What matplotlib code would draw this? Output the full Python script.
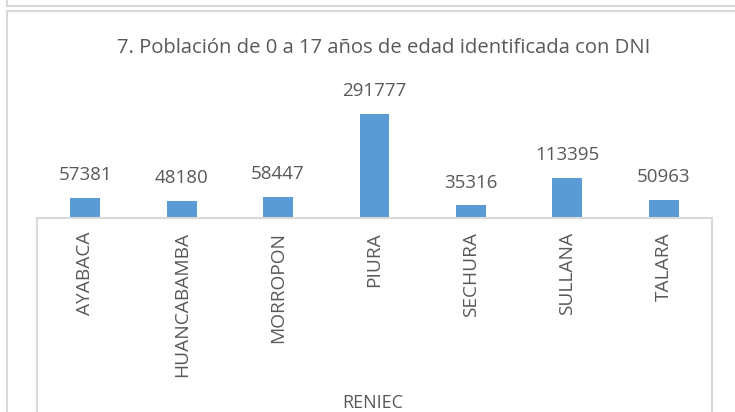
import matplotlib
matplotlib.use('Agg')
import matplotlib.pyplot as plt
from matplotlib.lines import Line2D

plt.rcParams['font.family'] = ['Open Sans', 'DejaVu Sans']

# datos del grafico
provincias = ['AYABACA', 'HUANCABAMBA', 'MORROPON', 'PIURA', 'SECHURA', 'SULLANA', 'TALARA']
poblacion = [57381, 48180, 58447, 291777, 35316, 113395, 50963]
titulo = '7. Población de 0 a 17 años de edad identificada con DNI'
eje_x = 'RENIEC'

W, H = 735, 412
gris = '#595959'
linea = '#d9d9d9'

fig = plt.figure(figsize=(W / 100, H / 100), dpi=100)

# area de grafico: base en y=218 px, PIURA llega a y=114 px
base_px, top_px = 218, 60
ymax = max(poblacion) * (base_px - top_px) / (base_px - 114)
ax = fig.add_axes([37 / W, 1 - base_px / H, (712 - 37) / W, (base_px - top_px) / H])

x = range(len(provincias))
bars = ax.bar(x, poblacion, width=0.31, color='#5B9BD5')
ax.set_xlim(-0.5, len(provincias) - 0.5)
ax.set_ylim(0, ymax)

# etiquetas de datos
for rect, v in zip(bars, poblacion):
    ax.annotate(str(v), (rect.get_x() + rect.get_width() / 2, v),
                xytext=(0, 10), textcoords='offset points',
                ha='center', va='bottom', fontsize=13.5, color=gris)

ax.set_xticks(list(x))
ax.set_xticklabels(provincias, rotation=90, fontsize=13.8, color=gris)
ax.tick_params(axis='x', length=0, pad=10)
ax.set_yticks([])
for s in ['top', 'left', 'right']:
    ax.spines[s].set_visible(False)
ax.spines['bottom'].set_color(linea)
ax.spines['bottom'].set_linewidth(1.5)

# lineas de la tabla de categorias y marcos
def linea_px(x0, y0, x1, y1):
    fig.add_artist(Line2D([x0 / W, x1 / W], [1 - y0 / H, 1 - y1 / H],
                          color=linea, linewidth=1.5, transform=fig.transFigure))

linea_px(37, base_px, 37, H)
linea_px(712, base_px, 712, H)
linea_px(7, 0, 7, 6)
linea_px(7, 6, W, 6)
linea_px(7, 10.5, W, 10.5)
linea_px(7, 10.5, 7, H)

fig.text(384 / W, 1 - 48 / H, titulo, ha='center', va='center', fontsize=14.6, color=gris)
fig.text(373 / W, 1 - 403 / H, eje_x, ha='center', va='center', fontsize=13, color=gris)

fig.savefig('out.png', dpi=100)
